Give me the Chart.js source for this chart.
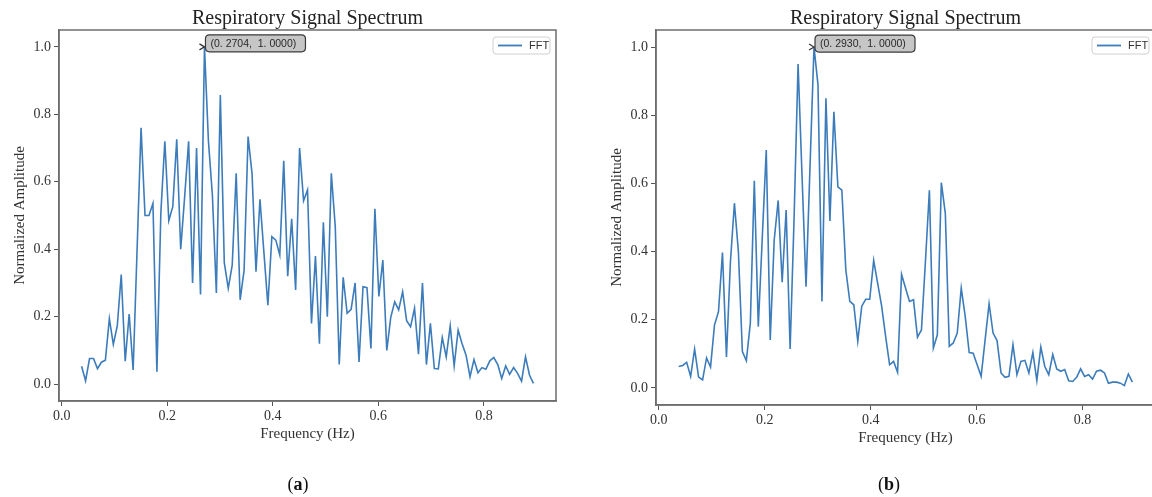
<!DOCTYPE html>
<html>
<head>
<meta charset="utf-8">
<title>Respiratory Signal Spectrum</title>
<script src="https://cdn.jsdelivr.net/npm/chart.js@4.4.1/dist/chart.umd.min.js"></script>
<style>
  html, body { margin: 0; padding: 0; background: #fff; overflow: hidden; }
  #page { position: relative; width: 1152px; height: 497px; overflow: hidden; }
  .panel { position: absolute; top: 0; height: 497px; }
  #panelA { left: 0; width: 580px; }
  #panelB { left: 597px; width: 600px; }
</style>
</head>
<body>
<div id="page">
  <div class="panel" id="panelA"><canvas id="chartA"></canvas></div>
  <div class="panel" id="panelB"><canvas id="chartB"></canvas></div>
</div>
<script>
// FFT bins: frequency of bin k is k * freqStep, first plotted bin is firstBin
const freqStep = 0.007512;
const firstBin = 5;

// normalized amplitude, panel (a), bins 5..119
const ampA = [
  0.053, 0.010, 0.076, 0.076, 0.046, 0.065, 0.071, 0.194, 0.118, 0.173,
  0.325, 0.068, 0.208, 0.042, 0.400, 0.760, 0.500, 0.500, 0.536, 0.037,
  0.510, 0.720, 0.485, 0.526, 0.726, 0.400, 0.556, 0.720, 0.300, 0.700,
  0.266, 1.000, 0.720, 0.560, 0.270, 0.857, 0.360, 0.284, 0.353, 0.625,
  0.250, 0.338, 0.734, 0.625, 0.333, 0.548, 0.390, 0.234, 0.437, 0.427,
  0.383, 0.662, 0.320, 0.490, 0.279, 0.700, 0.544, 0.576, 0.180, 0.380,
  0.120, 0.480, 0.200, 0.625, 0.467, 0.058, 0.317, 0.210, 0.222, 0.300,
  0.066, 0.289, 0.286, 0.106, 0.520, 0.260, 0.368, 0.100, 0.198, 0.244,
  0.220, 0.274, 0.188, 0.170, 0.225, 0.089, 0.300, 0.058, 0.180, 0.046,
  0.045, 0.138, 0.081, 0.173, 0.054, 0.160, 0.120, 0.086, 0.022, 0.073,
  0.034, 0.049, 0.044, 0.069, 0.079, 0.058, 0.017, 0.054, 0.029, 0.049,
  0.032, 0.009, 0.081, 0.027, 0.002
];

// normalized amplitude, panel (b), bins 5..119
const ampB = [
  0.063, 0.066, 0.075, 0.034, 0.114, 0.032, 0.024, 0.088, 0.061, 0.185,
  0.224, 0.397, 0.091, 0.370, 0.542, 0.400, 0.107, 0.080, 0.190, 0.608,
  0.180, 0.440, 0.698, 0.141, 0.434, 0.550, 0.310, 0.522, 0.114, 0.500,
  0.950, 0.620, 0.297, 0.650, 1.000, 0.890, 0.254, 0.850, 0.490, 0.810,
  0.590, 0.580, 0.346, 0.254, 0.244, 0.137, 0.240, 0.260, 0.260, 0.374,
  0.307, 0.240, 0.151, 0.068, 0.078, 0.046, 0.333, 0.293, 0.254, 0.259,
  0.149, 0.170, 0.370, 0.580, 0.117, 0.156, 0.602, 0.512, 0.122, 0.132,
  0.161, 0.293, 0.210, 0.104, 0.102, 0.068, 0.034, 0.141, 0.247, 0.161,
  0.139, 0.044, 0.031, 0.034, 0.127, 0.039, 0.078, 0.081, 0.044, 0.104,
  0.022, 0.120, 0.063, 0.039, 0.098, 0.056, 0.049, 0.054, 0.021, 0.019,
  0.031, 0.056, 0.034, 0.039, 0.026, 0.049, 0.052, 0.044, 0.014, 0.017,
  0.017, 0.014, 0.007, 0.041, 0.017
];

const xTicks = [0.0, 0.2, 0.4, 0.6, 0.8];
const yTicks = [0.0, 0.2, 0.4, 0.6, 0.8, 1.0];

const peakA = { freq: 0.2704, amp: 1.0, label: '(0. 2704,  1. 0000)' };
const peakB = { freq: 0.2930, amp: 1.0, label: '(0. 2930,  1. 0000)' };

const SERIF = '"Liberation Serif", "Times New Roman", serif';
const SANS = '"Liberation Sans", "DejaVu Sans", sans-serif';
const LINE_COLOR = '#3c7cba';

function roundRect(ctx, x, y, w, h, r) {
    ctx.beginPath();
    ctx.moveTo(x + r, y);
    ctx.lineTo(x + w - r, y);
    ctx.quadraticCurveTo(x + w, y, x + w, y + r);
    ctx.lineTo(x + w, y + h - r);
    ctx.quadraticCurveTo(x + w, y + h, x + w - r, y + h);
    ctx.lineTo(x + r, y + h);
    ctx.quadraticCurveTo(x, y + h, x, y + h - r);
    ctx.lineTo(x, y + r);
    ctx.quadraticCurveTo(x, y, x + r, y);
    ctx.closePath();
}

// frame, title, legend, peak annotation and panel letter
const panelDecor = {
    id: 'panelDecor',
    afterDraw(chart, args, opts) {
        const { ctx, chartArea: a } = chart;
        const xs = chart.scales.x, ys = chart.scales.y;
        ctx.save();

        // axes frame
        ctx.strokeStyle = '#6e6e6e';
        ctx.lineWidth = 1.5;
        ctx.strokeRect(a.left, a.top, a.width, a.height);

        // title
        ctx.fillStyle = '#222';
        ctx.font = '20px ' + SERIF;
        ctx.textAlign = 'center';
        ctx.textBaseline = 'alphabetic';
        ctx.fillText(opts.title, (a.left + a.right) / 2, 24);

        // legend
        const lw = 57, lh = 17;
        const lx = a.right - 6 - lw, ly = a.top + 7;
        roundRect(ctx, lx, ly, lw, lh, 3);
        ctx.fillStyle = '#fff';
        ctx.fill();
        ctx.strokeStyle = '#d0d0d0';
        ctx.lineWidth = 1;
        ctx.stroke();
        ctx.strokeStyle = LINE_COLOR;
        ctx.lineWidth = 1.8;
        ctx.beginPath();
        ctx.moveTo(lx + 5, ly + lh / 2);
        ctx.lineTo(lx + 29, ly + lh / 2);
        ctx.stroke();
        ctx.fillStyle = '#333';
        ctx.font = '11px ' + SANS;
        ctx.textAlign = 'left';
        ctx.textBaseline = 'middle';
        ctx.fillText(opts.legend, lx + 36, ly + lh / 2 + 0.5);

        // peak annotation
        const px = xs.getPixelForValue(opts.peak.freq);
        const py = ys.getPixelForValue(opts.peak.amp);
        const bx = px + 1, by = py - 12, bw = 100, bh = 17;
        roundRect(ctx, bx, by, bw, bh, 4);
        ctx.fillStyle = '#c6c6c6';
        ctx.fill();
        ctx.strokeStyle = '#3a3a3a';
        ctx.lineWidth = 1.2;
        ctx.stroke();
        ctx.fillStyle = '#2a2a2a';
        ctx.font = '10.5px ' + SANS;
        ctx.textAlign = 'left';
        ctx.textBaseline = 'middle';
        ctx.fillText(opts.peak.label, bx + 5, by + bh / 2 + 0.5, bw - 9);
        ctx.strokeStyle = '#333';
        ctx.lineWidth = 1.2;
        ctx.beginPath();
        ctx.moveTo(px - 5, py - 3);
        ctx.lineTo(px, py);
        ctx.lineTo(px - 5, py + 3);
        ctx.stroke();

        // panel letter "(a)" with bold letter
        ctx.fillStyle = '#111';
        ctx.textBaseline = 'alphabetic';
        ctx.textAlign = 'left';
        const normal = '18px ' + SERIF, bold = 'bold 18px ' + SERIF;
        ctx.font = normal;
        const wOpen = ctx.measureText('(').width;
        const wClose = ctx.measureText(')').width;
        ctx.font = bold;
        const wLetter = ctx.measureText(opts.letter).width;
        let tx = opts.letterX - (wOpen + wLetter + wClose) / 2;
        const ty = 490;
        ctx.font = normal;
        ctx.fillText('(', tx, ty);
        tx += wOpen;
        ctx.font = bold;
        ctx.fillText(opts.letter, tx, ty);
        tx += wLetter;
        ctx.font = normal;
        ctx.fillText(')', tx, ty);

        ctx.restore();
    }
};

function makePanel(canvasId, amps, peak, letter, letterX, padding) {
    const points = amps.map((v, i) => ({ x: (firstBin + i) * freqStep, y: v }));
    return new Chart(document.getElementById(canvasId).getContext('2d'), {
        type: 'line',
        data: {
            datasets: [{
                label: 'FFT',
                data: points,
                borderColor: LINE_COLOR,
                borderWidth: 1.6,
                pointRadius: 0,
                tension: 0,
                fill: false
            }]
        },
        options: {
            responsive: true,
            maintainAspectRatio: false,
            animation: false,
            events: [],
            layout: { padding: padding },
            scales: {
                x: {
                    type: 'linear',
                    min: -0.0053,
                    max: 0.9367,
                    afterBuildTicks: s => { s.ticks = xTicks.map(v => ({ value: v })); },
                    afterFit: s => { s.height = 42; },
                    ticks: {
                        callback: v => v.toFixed(1),
                        font: { family: SERIF, size: 14 },
                        color: '#333',
                        padding: 2,
                        maxRotation: 0,
                        autoSkip: false
                    },
                    grid: { drawOnChartArea: false, drawTicks: true, tickLength: 5, tickColor: '#555' },
                    border: { display: true, color: '#6e6e6e', width: 1.5 },
                    title: {
                        display: true,
                        text: 'Frequency (Hz)',
                        font: { family: SERIF, size: 15 },
                        color: '#333',
                        padding: { top: 2, bottom: 0 }
                    }
                },
                y: {
                    min: -0.05,
                    max: 1.05,
                    afterBuildTicks: s => { s.ticks = yTicks.map(v => ({ value: v })); },
                    afterFit: s => { s.width = 59; },
                    ticks: {
                        callback: v => v.toFixed(1),
                        font: { family: SERIF, size: 14 },
                        color: '#333',
                        padding: 3
                    },
                    grid: { drawOnChartArea: false, drawTicks: true, tickLength: 5, tickColor: '#555' },
                    border: { display: true, color: '#6e6e6e', width: 1.5 },
                    title: {
                        display: true,
                        text: 'Normalized Amplitude',
                        font: { family: SERIF, size: 15 },
                        color: '#333',
                        padding: { top: 11, bottom: 0 }
                    }
                }
            },
            plugins: {
                legend: { display: false },
                tooltip: { enabled: false },
                panelDecor: {
                    title: 'Respiratory Signal Spectrum',
                    legend: 'FFT',
                    peak: peak,
                    letter: letter,
                    letterX: letterX
                }
            }
        },
        plugins: [panelDecor]
    });
}

makePanel('chartA', ampA, peakA, 'a', 298, { top: 30, left: 0, right: 24, bottom: 54 });
makePanel('chartB', ampB, peakB, 'b', 292, { top: 30, left: 0, right: 42, bottom: 50 });
</script>
</body>
</html>
